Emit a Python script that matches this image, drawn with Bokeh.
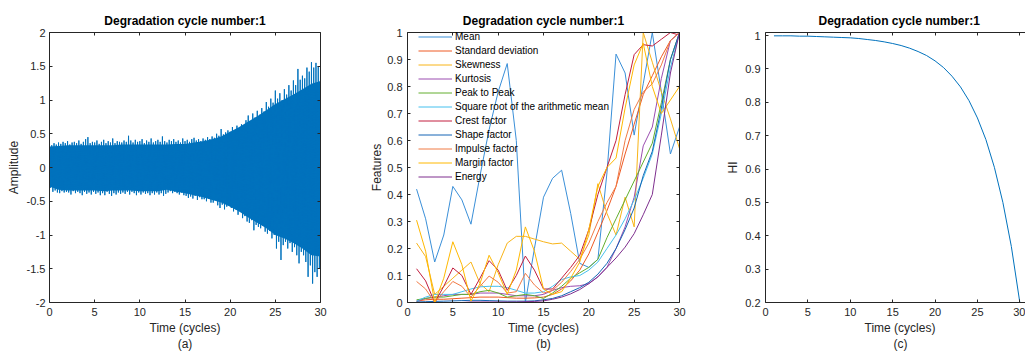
from bokeh.plotting import figure
from bokeh.models import LinearAxis, FixedTicker, Title, Legend, LegendItem, Range1d
from bokeh.layouts import row
from bokeh.embed import file_html
from bokeh.resources import INLINE

FONT = "Liberation Sans"
AX = "#262626"
TITLE = "Degradation cycle number:1"
XLABEL = "Time (cycles)"

# ---------------- data: panel (a) raw vibration signal ----------------
# positive and negative peaks read every 0.25 cycle (one group per cycle)
sig_upper = [0.35, 0.33, 0.36, 0.34,  0.37, 0.35, 0.38, 0.36,  0.39, 0.34, 0.37, 0.38,
             0.36, 0.40, 0.35, 0.38,  0.42, 0.45, 0.36, 0.38,  0.37, 0.40, 0.35, 0.38,
             0.41, 0.36, 0.39, 0.37,  0.43, 0.36, 0.39, 0.38,  0.37, 0.40, 0.38, 0.47,
             0.40, 0.37, 0.41, 0.38,  0.39, 0.42, 0.36, 0.40,  0.38, 0.43, 0.37, 0.39,
             0.41, 0.38, 0.46, 0.39,  0.37, 0.41, 0.39, 0.42,  0.38, 0.40, 0.37, 0.43,
             0.39, 0.41, 0.38, 0.42,  0.44, 0.40, 0.42, 0.39,  0.43, 0.41, 0.45, 0.42,
             0.46, 0.44, 0.50, 0.47,  0.57, 0.49, 0.52, 0.55,  0.53, 0.60, 0.55, 0.62,
             0.58, 0.64, 0.62, 0.70,  0.77, 0.68, 0.80, 0.74,  0.84, 0.78, 0.88, 0.83,
             0.97, 0.90, 1.02, 0.96,  1.14, 1.02, 1.10, 1.00,  1.16, 1.08, 1.22, 1.14,
             1.29, 1.22, 1.46, 1.30,  1.36, 1.32, 1.48, 1.42,  1.56, 1.48, 1.55, 1.50,
             1.50]
sig_lower = [-0.30, -0.36, -0.34, -0.37,  -0.38, -0.35, -0.37, -0.36,  -0.37, -0.40, -0.35, -0.38,
             -0.36, -0.38, -0.41, -0.36,  -0.39, -0.37, -0.40, -0.36,  -0.39, -0.37, -0.41, -0.38,
             -0.41, -0.36, -0.39, -0.42,  -0.38, -0.40, -0.37, -0.39,  -0.37, -0.39, -0.36, -0.40,
             -0.36, -0.38, -0.41, -0.37,  -0.40, -0.37, -0.39, -0.38,  -0.41, -0.38, -0.40, -0.37,
             -0.40, -0.38, -0.42, -0.39,  -0.37, -0.35, -0.38, -0.36,  -0.38, -0.40, -0.37, -0.41,
             -0.42, -0.45, -0.43, -0.46,  -0.42, -0.48, -0.44, -0.47,  -0.47, -0.50, -0.46, -0.52,
             -0.52, -0.48, -0.56, -0.60,  -0.55, -0.62, -0.58, -0.56,  -0.60, -0.65, -0.62, -0.70,
             -0.66, -0.75, -0.72, -0.80,  -0.82, -0.78, -0.93, -0.85,  -0.88, -0.90, -0.86, -0.95,
             -0.98, -0.94, -1.05, -1.00,  -1.20, -1.10, -1.37, -1.15,  -1.10, -1.20, -1.12, -1.25,
             -1.18, -1.30, -1.42, -1.25,  -1.30, -1.40, -1.62, -1.45,  -1.72, -1.55, -1.62, -1.50,
             -1.52]
# solid inner part of the signal, read every cycle
core_upper = [0.31, 0.32, 0.33, 0.33, 0.33, 0.33, 0.33, 0.33, 0.34, 0.34, 0.34, 0.34, 0.34, 0.34, 0.35,
              0.35, 0.37, 0.39, 0.42, 0.46, 0.53, 0.60, 0.68, 0.76, 0.85, 0.94, 1.01, 1.08, 1.16, 1.24, 1.28]
core_lower = [-0.28, -0.33, -0.34, -0.34, -0.34, -0.34, -0.35, -0.34, -0.34, -0.34, -0.35, -0.35, -0.35, -0.33, -0.36,
              -0.38, -0.41, -0.44, -0.48, -0.52, -0.58, -0.65, -0.74, -0.82, -0.90, -1.00, -1.05, -1.12, -1.20, -1.30, -1.32]

# ---------------- data: panel (b) features ----------------
cycles = list(range(1, 31))
feat_names = ["Mean", "Standard deviation", "Skewness", "Kurtosis", "Peak to Peak",
              "Square root of the arithmetic mean", "Crest factor", "Shape factor",
              "Impulse factor", "Margin factor", "Energy"]
feat_colors = ["#3A8FD8", "#EE5A24", "#F8B418", "#9B4DB0", "#62AE2E",
               "#45C0EE", "#C21E3E", "#1565B5", "#F07A45", "#FFB800", "#7E2F8E"]
f_mean = [0.42, 0.31, 0.15, 0.25, 0.43, 0.38, 0.29, 0.47, 0.64, 0.78, 0.885, 0.60, 0.00, 0.20, 0.39,
          0.46, 0.49, 0.33, 0.145, 0.13, 0.16, 0.48, 0.92, 0.85, 0.62, 0.81, 1.00, 0.78, 0.55, 0.65]
f_std = [0.005, 0.01, 0.012, 0.012, 0.014, 0.016, 0.018, 0.02, 0.02, 0.02, 0.018, 0.016, 0.016, 0.017, 0.02,
         0.03, 0.05, 0.08, 0.12, 0.18, 0.26, 0.34, 0.43, 0.55, 0.66, 0.77, 0.84, 0.91, 0.97, 1.0]
f_skew = [0.22, 0.17, 0.03, 0.06, 0.09, 0.12, 0.15, 0.07, 0.04, 0.14, 0.22, 0.245, 0.245, 0.235, 0.225,
          0.217, 0.22, 0.19, 0.16, 0.25, 0.44, 0.33, 0.25, 0.39, 0.28, 1.0, 0.89, 0.78, 0.68, 0.57]
f_kurt = [0.005, 0.015, 0.02, 0.025, 0.03, 0.03, 0.03, 0.035, 0.035, 0.035, 0.03, 0.025, 0.025, 0.025, 0.03,
          0.045, 0.055, 0.06, 0.062, 0.07, 0.095, 0.13, 0.20, 0.28, 0.39, 0.58, 0.65, 0.83, 0.97, 1.0]
f_p2p = [0.01, 0.015, 0.02, 0.02, 0.025, 0.03, 0.03, 0.04, 0.045, 0.035, 0.02, 0.025, 0.03, 0.025, 0.015,
         0.035, 0.06, 0.09, 0.11, 0.13, 0.16, 0.24, 0.31, 0.38, 0.45, 0.52, 0.59, 0.74, 0.90, 1.0]
f_sram = [0.005, 0.02, 0.03, 0.03, 0.03, 0.04, 0.05, 0.058, 0.06, 0.06, 0.055, 0.045, 0.035, 0.035, 0.04,
          0.06, 0.085, 0.095, 0.10, 0.12, 0.15, 0.20, 0.25, 0.31, 0.38, 0.46, 0.55, 0.70, 0.87, 1.0]
f_crest = [0.125, 0.08, 0.0, 0.06, 0.128, 0.10, 0.03, 0.09, 0.155, 0.12, 0.045, 0.10, 0.172, 0.12, 0.05,
           0.05, 0.09, 0.13, 0.175, 0.27, 0.40, 0.50, 0.60, 0.77, 0.918, 0.955, 0.95, 0.975, 1.0, 0.99]
f_shape = [0.002, 0.003, 0.004, 0.005, 0.006, 0.007, 0.008, 0.008, 0.007, 0.006, 0.005, 0.005, 0.005, 0.006, 0.01,
           0.015, 0.025, 0.04, 0.055, 0.075, 0.105, 0.145, 0.20, 0.27, 0.35, 0.47, 0.56, 0.72, 0.90, 1.0]
f_impulse = [0.078, 0.05, 0.0, 0.04, 0.078, 0.06, 0.02, 0.06, 0.098, 0.075, 0.035, 0.04, 0.108, 0.065, 0.035,
             0.045, 0.075, 0.115, 0.16, 0.22, 0.30, 0.37, 0.43, 0.60, 0.715, 0.78, 0.81, 0.88, 0.97, 1.0]
f_margin = [0.305, 0.19, 0.0, 0.09, 0.225, 0.14, 0.005, 0.07, 0.175, 0.11, 0.03, 0.12, 0.28, 0.19, 0.05,
            0.03, 0.04, 0.09, 0.15, 0.27, 0.43, 0.50, 0.535, 0.72, 0.88, 0.96, 0.80, 0.70, 0.75, 0.80]
f_energy = [0.0, 0.0, 0.0, 0.0, 0.0, 0.0, 0.002, 0.002, 0.002, 0.002, 0.002, 0.002, 0.003, 0.004, 0.006,
            0.012, 0.02, 0.032, 0.048, 0.07, 0.095, 0.13, 0.165, 0.205, 0.255, 0.325, 0.40, 0.62, 0.85, 1.0]
feat_values = [f_mean, f_std, f_skew, f_kurt, f_p2p, f_sram, f_crest, f_shape, f_impulse, f_margin, f_energy]

# ---------------- data: panel (c) health indicator ----------------
hi_values = [0.999, 0.999, 0.999, 0.998, 0.998, 0.997, 0.996, 0.995, 0.994, 0.993,
             0.991, 0.988, 0.985, 0.981, 0.976, 0.970, 0.962, 0.952, 0.940, 0.924,
             0.904, 0.878, 0.846, 0.805, 0.753, 0.688, 0.605, 0.500, 0.368, 0.200]

# ---------------- ticks ----------------
x_ticks = [0, 5, 10, 15, 20, 25, 30]
a_yticks = [-2, -1.5, -1, -0.5, 0, 0.5, 1, 1.5, 2]
a_ylabels = ["-2", "-1.5", "-1", "-0.5", "0", "0.5", "1", "1.5", "2"]
b_yticks = [0, 0.1, 0.2, 0.3, 0.4, 0.5, 0.6, 0.7, 0.8, 0.9, 1]
b_ylabels = ["0", "0.1", "0.2", "0.3", "0.4", "0.5", "0.6", "0.7", "0.8", "0.9", "1"]
c_yticks = [0.2, 0.3, 0.4, 0.5, 0.6, 0.7, 0.8, 0.9, 1]
c_ylabels = ["0.2", "0.3", "0.4", "0.5", "0.6", "0.7", "0.8", "0.9", "1"]


def style_axis(ax, ticks, labels, show_labels=True):
    ax.ticker = FixedTicker(ticks=ticks)
    ax.major_label_overrides = {t: l for t, l in zip(ticks, labels)}
    ax.major_tick_in = 3
    ax.major_tick_out = 0
    ax.minor_tick_in = 0
    ax.minor_tick_out = 0
    ax.axis_line_color = AX
    ax.axis_line_width = 1
    ax.major_tick_line_color = AX
    ax.major_label_text_font = FONT
    ax.major_label_text_font_size = "11px" if show_labels else "0px"
    ax.major_label_text_color = AX
    ax.axis_label_text_font = FONT
    ax.axis_label_text_font_size = "12px"
    ax.axis_label_text_font_style = "normal"
    ax.axis_label_text_color = AX


def make_fig(width, left, right, frame_w, xr, yr, xt, yt, yl, ylabel, sub, right_axis=True,
             ystand=4, ylab_stand=3, shift=None):
    p = figure(width=width, height=352, frame_width=frame_w, frame_height=270,
               x_range=xr, y_range=yr, output_backend="svg", toolbar_location=None,
               min_border_left=left, min_border_right=right, min_border_top=32, min_border_bottom=50)
    p.grid.visible = False
    p.outline_line_color = None
    p.background_fill_color = "white"
    p.border_fill_color = "white"
    style_axis(p.xaxis[0], xt, [str(v) for v in xt])
    p.xaxis[0].major_label_standoff = 5
    style_axis(p.yaxis[0], yt, yl)
    p.yaxis[0].axis_label = ylabel
    p.yaxis[0].major_label_standoff = ystand
    p.yaxis[0].axis_label_standoff = ylab_stand
    top = LinearAxis()
    style_axis(top, xt, ["" for _ in xt], show_labels=False)
    top.major_label_standoff = 0
    p.add_layout(top, "above")
    if right_axis:
        rax = LinearAxis()
        style_axis(rax, yt, ["" for _ in yt], show_labels=False)
        rax.major_label_standoff = 0
        p.add_layout(rax, "right")
    p.title.text = TITLE
    p.title.text_font = FONT
    p.title.text_font_size = "12px"
    p.title.text_font_style = "bold"
    p.title.text_color = "#000000"
    p.title.standoff = 10
    if shift is None:
        p.title.align = "center"
        xl = Title(text=XLABEL, align="center")
        sl = Title(text=sub, align="center")
    else:
        p.title.align = "left"
        p.title.offset = shift[0]
        xl = Title(text=XLABEL, align="left", offset=shift[1])
        sl = Title(text=sub, align="left", offset=shift[2])
    for t in (xl, sl):
        t.text_font = FONT
        t.text_font_size = "12px"
        t.text_font_style = "normal"
        t.text_color = AX
        t.standoff = 0
        p.add_layout(t, "below")
    return p


# panel (a)
pa = make_fig(356, 49, 36, 271, Range1d(0, 30), Range1d(-2, 2), x_ticks, a_yticks, a_ylabels,
              "Amplitude", "(a)")
sig_t = [i * 0.25 for i in range(len(sig_upper))]
core_t = list(range(len(core_upper)))
zz_x, zz_y = [], []
for t, u, l in zip(sig_t, sig_upper, sig_lower):
    zz_x += [t, t + 0.125]
    zz_y += [u, l]
pa.varea(x=core_t, y1=core_lower, y2=core_upper, fill_color="#0072BD")
pa.line(zz_x, zz_y, line_color="#0072BD", line_width=1)

# panel (b)
pb = make_fig(358, 51, 35, 272, Range1d(0, 30), Range1d(0, 1), x_ticks, b_yticks, b_ylabels,
              "Features", "(b)", ystand=5, ylab_stand=0)
items = []
for name, col, vals in zip(feat_names, feat_colors, feat_values):
    r = pb.line(cycles, vals, line_color=col, line_width=1)
    items.append(LegendItem(label=name, renderers=[r]))
leg = Legend(items=items, location=(11, 119), glyph_width=34, glyph_height=13, label_height=13,
             spacing=1, padding=0, margin=0, label_standoff=3,
             label_text_font=FONT, label_text_font_size="10px", label_text_color="#000000",
             background_fill_alpha=0, border_line_alpha=0)
pb.add_layout(leg)

# panel (c)  (frame continues past the right edge of the picture)
pc = make_fig(311, 51, 0, 260, Range1d(0, 30.67), Range1d(0.2, 1.009), x_ticks, c_yticks, c_ylabels,
              "HI", "(c)", right_axis=False, ystand=5, ylab_stand=2, shift=(53, 99, 128))
pc.line(cycles, hi_values, line_color="#0072BD", line_width=1)

layout = row(pa, pb, pc)
open("out.html", "w").write(file_html(layout, INLINE))
